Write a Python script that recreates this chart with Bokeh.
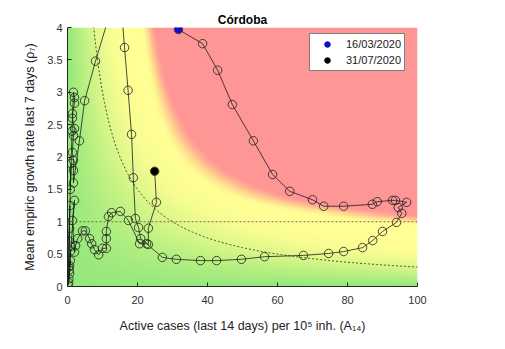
import numpy as np
from bokeh.plotting import figure
from bokeh.models import FixedTicker, CustomJSTickFormatter, Legend, LegendItem, Span
from bokeh.embed import file_html
from bokeh.resources import INLINE

# ---- data ----
a14 = [31.7, 38.6, 42.9, 47.1, 53.1, 58.6, 63.5, 70.0, 73.2, 78.9, 87.1, 88.5, 92.9, 93.7, 96.9,
       94.5, 95.5, 94.0, 90.0, 87.2, 84.3, 78.9, 74.6, 67.4, 56.3, 49.7, 42.6, 38.0, 31.1, 27.1,
       22.6, 20.6, 17.4, 15.1, 12.6, 11.7, 11.1, 11.1, 11.1, 10.0, 8.9, 7.7, 6.9, 6.3, 5.1,
       4.3, 2.9, 2.3, 2.0, 1.4, 2.0, 1.0, 0.6, 0.6, 0.3, 0.8, 0.4, 0.9, 0.5, 0.2,
       0.6, 0.3, 0.7, 0.4, 1.0, 0.8, 1.3, 1.7, 2.0, 2.0, 1.4, 1.4, 2.0, 1.7, 1.4,
       1.7, 1.7, 1.7, 3.4, 4.9, 8.0, 14.8, 16.3, 17.3, 18.3, 18.8, 19.4, 20.3, 20.9, 23.1,
       23.1, 25.4, 24.9]
rho7 = [3.97, 3.75, 3.34, 2.81, 2.25, 1.73, 1.47, 1.34, 1.24, 1.24, 1.27, 1.31, 1.33, 1.33, 1.30,
        1.22, 1.13, 0.99, 0.85, 0.71, 0.60, 0.54, 0.51, 0.48, 0.46, 0.42, 0.40, 0.40, 0.42, 0.45,
        0.66, 0.66, 1.02, 1.16, 1.14, 1.08, 0.85, 0.74, 0.59, 0.59, 0.49, 0.57, 0.66, 0.74, 0.86,
        0.86, 0.74, 0.63, 0.53, 1.02, 1.33, 0.62, 0.32, 0.20, 0.06, 0.40, 0.12, 0.55, 0.25, 0.02,
        0.90, 0.30, 1.25, 0.70, 1.90, 1.50, 2.40, 3.00, 2.92, 2.83, 2.67, 2.60, 2.44, 2.33, 2.07,
        1.95, 1.79, 1.60, 2.25, 2.87, 3.48, 4.70, 3.69, 3.03, 2.35, 1.68, 1.05, 0.91, 0.74, 0.65,
        0.90, 1.30, 1.78]
start_label = "16/03/2020"
end_label = "31/07/2020"
x_ticks = [0, 20, 40, 60, 80, 100]
y_ticks = [0, 0.5, 1, 1.5, 2, 2.5, 3, 3.5, 4]
epg_curve = 30      # dashed iso-line A14*rho = 30
rho_ref = 1         # dashed horizontal line

FONT = "Liberation Sans"

p = figure(width=505, height=349, x_range=(0, 100), y_range=(0, 4),
           output_backend="svg", toolbar_location=None,
           min_border_left=67, min_border_right=88, min_border_top=27, min_border_bottom=63)
p.outline_line_color = None
p.grid.visible = False

# ---- background risk gradient ----
nx, ny = 500, 250
gx = np.linspace(0, 100, nx)
gy = np.linspace(0, 4, ny)
X, Y = np.meshgrid(gx, gy)
E = X * Y
# green -> yellow, driven by A14*rho
gy_stops = [0, 15, 30, 45, 60, 1000]
cR = np.interp(E, gy_stops, [150, 185, 222, 248, 255, 255])
cG = np.interp(E, gy_stops, [232, 240, 248, 253, 255, 255])
cB = np.interp(E, gy_stops, [125, 130, 138, 146, 150, 150])
# yellow -> orange -> red zone
H = (X - 14.6) * (Y - 0.7) / 34.3
w = np.clip((H - 0.62) / 0.40, 0, 1)
w = w * w * (3 - 2 * w)
orange = (255, 205, 142)
red = (255, 150, 150)
lo = w < 0.5
t1 = np.where(lo, w / 0.5, 0)
t2 = np.where(lo, 0, (w - 0.5) / 0.5)
R = np.where(lo, cR + (orange[0] - cR) * t1, orange[0] + (red[0] - orange[0]) * t2)
G = np.where(lo, cG + (orange[1] - cG) * t1, orange[1] + (red[1] - orange[1]) * t2)
B = np.where(lo, cB + (orange[2] - cB) * t1, orange[2] + (red[2] - orange[2]) * t2)
img = np.empty((ny, nx), dtype=np.uint32)
v = img.view(dtype=np.uint8).reshape((ny, nx, 4))
v[:, :, 0] = R
v[:, :, 1] = G
v[:, :, 2] = B
v[:, :, 3] = 255
p.image_rgba(image=[img], x=0, y=0, dw=100, dh=4)

# ---- reference lines ----
cx = np.linspace(epg_curve / 4.2, 100, 300)
p.line(cx, epg_curve / cx, line_color="#3a3a2a", line_width=0.9, line_dash="2 2")
p.add_layout(Span(location=rho_ref, dimension="width", line_color="#6a5a3a",
                  line_width=0.9, line_dash="2 2"))

# ---- trajectory ----
p.line(a14, rho7, line_color="#1e1e1e", line_width=0.8)
p.scatter(a14, rho7, size=8.5, marker="circle", fill_color=None,
          line_color="#1e1e1e", line_width=0.8)
r_start = p.scatter([a14[0]], [rho7[0]], size=7, marker="circle",
                    fill_color="#1010c8", line_color="#1010c8")
r_end = p.scatter([a14[-1]], [rho7[-1]], size=7, marker="circle",
                  fill_color="#000000", line_color="#000000")

legend = Legend(items=[LegendItem(label=start_label, renderers=[r_start]),
                       LegendItem(label=end_label, renderers=[r_end])],
                location=(242, 215))
legend.border_line_color = "#000000"
legend.border_line_width = 1
legend.background_fill_color = "white"
legend.background_fill_alpha = 1
legend.label_text_font = FONT
legend.label_text_font_size = "11px"
legend.label_text_color = "#1a1a1a"
legend.glyph_width = 28
legend.glyph_height = 14
legend.label_height = 14
legend.label_standoff = 5
legend.padding = 3
legend.spacing = 2
legend.margin = 0
p.add_layout(legend, "center")

# ---- title ----
p.title.text = "Córdoba"
p.title.align = "center"
p.title.text_font = FONT
p.title.text_font_size = "12px"
p.title.text_font_style = "bold"
p.title.text_color = "#000000"
p.title.standoff = 2

# ---- axes ----
p.xaxis.ticker = FixedTicker(ticks=x_ticks)
p.yaxis.ticker = FixedTicker(ticks=y_ticks)
p.yaxis.formatter = CustomJSTickFormatter(code="return String(tick);")
p.xaxis.axis_label = "Active cases (last 14 days) per 10\u2075 inh. (A\u2081\u2084)"
p.yaxis.axis_label = "Mean empiric growth rate last 7 days (\u03c1\u2087)"
for ax in (p.xaxis[0], p.yaxis[0]):
    ax.axis_line_color = "#1e2a1e"
    ax.major_tick_line_color = "#1e2a1e"
    ax.major_tick_in = 4
    ax.major_tick_out = 0
    ax.minor_tick_line_color = None
    ax.major_label_text_font = FONT
    ax.major_label_text_font_size = "11px"
    ax.major_label_text_color = "#333333"
    ax.axis_label_text_font = FONT
    ax.axis_label_text_font_size = "12.5px"
    ax.axis_label_text_font_style = "normal"
    ax.axis_label_text_color = "#222222"
p.xaxis.major_label_standoff = 9
p.xaxis.axis_label_standoff = 12
p.yaxis.major_label_standoff = 5
p.yaxis.axis_label_standoff = 7

open("out.html", "w").write(file_html(p, INLINE))
